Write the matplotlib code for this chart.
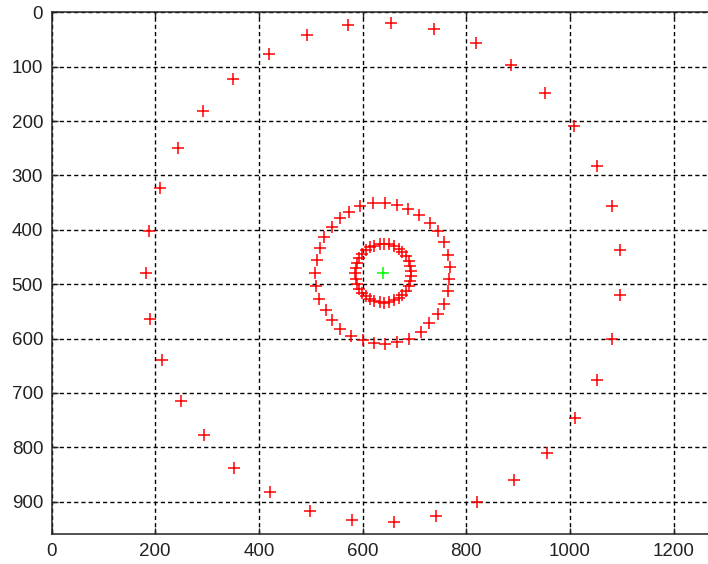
import matplotlib
matplotlib.use("Agg")
import matplotlib.pyplot as plt

# Outer ring (red +)
outer_x = [1096, 1081, 1053, 1010, 956, 892, 821, 741, 661, 579, 498, 421, 353, 294, 249, 214, 190, 183,
           189, 210, 245, 293, 351, 419, 493, 572, 655, 738, 818, 887, 953, 1008, 1052, 1081, 1096]
outer_y = [519, 600, 677, 747, 810, 860, 900, 926, 938, 934, 917, 883, 838, 778, 714, 640, 564, 479,
           403, 323, 250, 182, 123, 76, 42, 24, 19, 31, 56, 97, 148, 209, 282, 356, 437]

# Middle ring (red +)
mid_x = [767, 765, 757, 745, 729, 712, 690, 667, 643, 622, 601, 577, 557, 541, 530, 517, 511, 508,
         512, 518, 526, 541, 557, 574, 595, 621, 643, 667, 688, 709, 730, 745, 757, 765, 769]
mid_y = [490, 513, 536, 555, 572, 588, 601, 606, 610, 608, 602, 595, 583, 566, 547, 527, 504, 479,
         455, 434, 414, 395, 379, 368, 357, 351, 351, 354, 361, 373, 387, 403, 423, 447, 469]

# Inner ring (red +), estimated
inner_x = [694, 692, 689, 684, 677, 670, 661, 652, 642, 633, 623, 614, 606, 599, 594, 589, 587, 586,
           587, 589, 594, 599, 606, 614, 623, 633, 642, 652, 661, 670, 677, 684, 689, 692, 694]
inner_y = [485, 494, 503, 512, 519, 525, 530, 533, 534, 533, 531, 528, 522, 516, 508, 499, 490, 480,
           470, 461, 452, 444, 438, 432, 429, 426, 426, 427, 430, 435, 441, 448, 457, 466, 475]

# Centre (green +)
center_x = [640]
center_y = [480]

x_ticks = [0, 200, 400, 600, 800, 1000, 1200]
y_ticks = [0, 100, 200, 300, 400, 500, 600, 700, 800, 900]

plt.rcParams['font.family'] = ['Liberation Sans', 'DejaVu Sans']

fig = plt.figure(figsize=(7.08, 5.64), dpi=100)
W, H = 708, 564
left_px, right_px, top_px, bottom_px = 51.5, 715.0, 12.3, 534.3
ax = fig.add_axes([left_px / W, (H - bottom_px) / H, (right_px - left_px) / W, (bottom_px - top_px) / H])

mk = dict(linestyle='none', marker='+', markersize=9, markeredgewidth=1.1)
ax.plot(outer_x, outer_y, color='#ff0000', **mk)
ax.plot(mid_x, mid_y, color='#ff0000', **mk)
ax.plot(inner_x, inner_y, color='#ff0000', **mk)
ax.plot(center_x, center_y, color='#00ff00', **mk)

ax.set_xlim(0, 1280)
ax.set_ylim(960, 0)
ax.set_xticks(x_ticks)
ax.set_yticks(y_ticks)
ax.set_xticklabels([str(v) for v in x_ticks])
ax.set_yticklabels([str(v) for v in y_ticks])

ax.grid(True, color='black', linewidth=1.0, linestyle=(0, (3, 2.2)))
ax.set_axisbelow(True)
ax.tick_params(direction='in', length=4.5, width=1.0, top=True, right=True,
               labelsize=13.5, colors='#222222', pad=6)
for s in ax.spines.values():
    s.set_linewidth(1.1)
    s.set_color('#222222')

fig.savefig('out.png', dpi=100)
